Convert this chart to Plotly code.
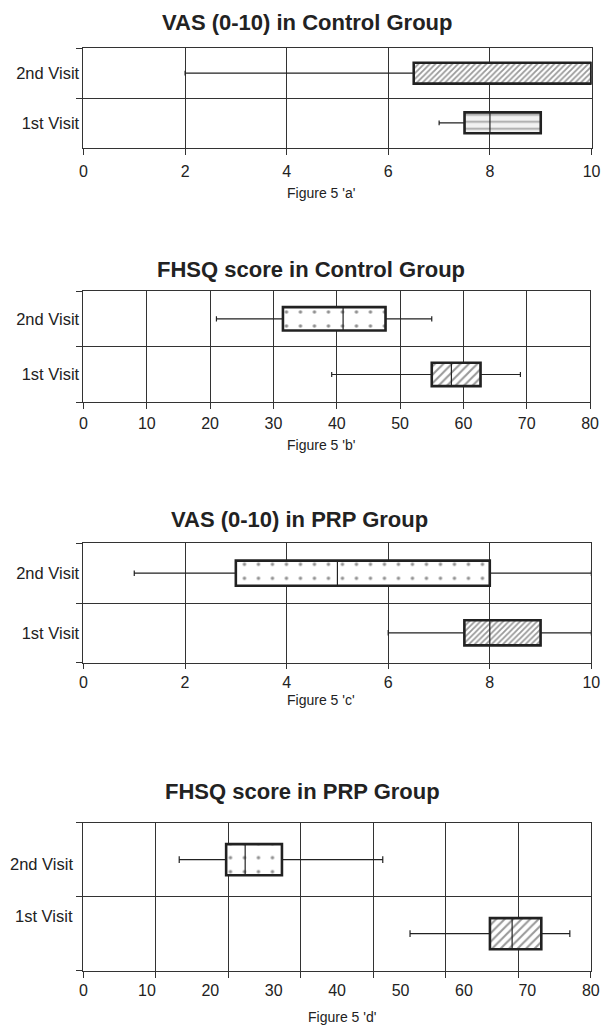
import plotly.graph_objects as go

# ---------------- data ----------------
visits = ["1st Visit", "2nd Visit"]

# Figure 5 'a' : VAS (0-10) in Control Group
a_low = [7.0, 2.0]
a_q1 = [7.5, 6.5]
a_med = [8.0, 10.0]
a_q3 = [9.0, 10.0]
a_high = [9.0, 10.0]

# Figure 5 'b' : FHSQ score in Control Group
b_low = [39.2, 21.0]
b_q1 = [55.0, 31.5]
b_med = [58.1, 41.0]
b_q3 = [62.7, 47.7]
b_high = [69.0, 55.0]

# Figure 5 'c' : VAS (0-10) in PRP Group
c_low = [6.0, 1.0]
c_q1 = [7.5, 3.0]
c_med = [8.0, 5.0]
c_q3 = [9.0, 8.0]
c_high = [10.0, 10.0]

# Figure 5 'd' : FHSQ score in PRP Group
d_low = [51.5, 15.1]
d_q1 = [64.1, 22.5]
d_med = [67.6, 25.5]
d_q3 = [72.2, 31.3]
d_high = [76.7, 47.2]

titles = ["VAS (0-10) in Control Group", "FHSQ score in Control Group",
          "VAS (0-10) in PRP Group", "FHSQ score in PRP Group"]
fig_labels = ["Figure 5 'a'", "Figure 5 'b'", "Figure 5 'c'", "Figure 5 'd'"]
vas_ticks = [0, 2, 4, 6, 8, 10]
fhsq_ticks = [0, 10, 20, 30, 40, 50, 60, 70, 80]
vas_range = [0, 10]
fhsq_range = [0, 80]
d_grid_range = [0, 70]   # grid of the last panel is drawn on its own 7-step scale
d_grid_step = 10

# ---------------- style / layout ----------------
W, H = 609, 1027
W_EFF = 600          # horizontal extent the page is actually laid out in
FONT = "Liberation Sans, Arial, sans-serif"
INK = "#222222"
GRID = "#333333"

# plot areas in pixels: (left, right, top, bottom)
areas = [(80, 591.5, 48.3, 147.7),
         (80, 590.0, 291.0, 402.3),
         (80, 591.3, 543.3, 662.7),
         (80, 590.7, 822.7, 970.7)]
title_pos = [(305, 23), (309, 269), (297, 519), (301, 791.5)]
label_pos = [(319, 193), (319, 445), (319, 700), (340, 1017)]
tick_len = [6, 6, 5, 0]
tick_standoff = [3, 0, 0, 5]

patterns = [
    dict(shape=["-", "/"], size=[7, 4], solidity=[0.25, 0.45],
         fgcolor=["#555555", "#333333"], bgcolor=["#f2f2f2", "white"]),
    dict(shape=["/", "."], size=[6, 14], solidity=[0.35, 0.05],
         fgcolor=["#333333", "#222222"], bgcolor=["white", "white"]),
    dict(shape=["/", "."], size=[4, 14], solidity=[0.45, 0.05],
         fgcolor=["#333333", "#222222"], bgcolor=["white", "white"]),
    dict(shape=["/", "."], size=[6, 14], solidity=[0.35, 0.05],
         fgcolor=["#333333", "#222222"], bgcolor=["white", "white"]),
]

stats = [(a_low, a_q1, a_med, a_q3, a_high),
         (b_low, b_q1, b_med, b_q3, b_high),
         (c_low, c_q1, c_med, c_q3, c_high),
         (d_low, d_q1, d_med, d_q3, d_high)]

BOXW = 0.42

fig = go.Figure()
layout = dict(width=W, height=H, margin=dict(l=0, r=0, t=0, b=0),
              autosize=False, showlegend=False,
              paper_bgcolor="white", plot_bgcolor="white",
              font=dict(family=FONT, color=INK, size=16),
              barmode="overlay", boxmode="overlay")
annotations = []

for i, (low, q1, med, q3, high) in enumerate(stats):
    n = i + 1
    xa, ya = f"x{n}", f"y{n}"
    L, R, T, B = areas[i]
    fig.add_trace(go.Bar(
        orientation="h", y=visits,
        x=[b - a for a, b in zip(q1, q3)], base=q1, width=BOXW,
        marker=dict(color="white", line=dict(color=INK, width=2.6),
                    pattern=patterns[i]),
        xaxis=xa, yaxis=ya, hoverinfo="skip"))
    fig.add_trace(go.Box(
        orientation="h", y=visits, q1=q1, median=med, q3=q3,
        lowerfence=low, upperfence=high, width=BOXW, whiskerwidth=0.22,
        fillcolor="rgba(0,0,0,0)", line=dict(color=INK, width=1.2),
        boxpoints=False, xaxis=xa, yaxis=ya))

    is_vas = i in (0, 2)
    ticks = vas_ticks if is_vas else fhsq_ticks
    rng = vas_range if is_vas else fhsq_range
    xkey = "xaxis" if n == 1 else f"xaxis{n}"
    ykey = "yaxis" if n == 1 else f"yaxis{n}"
    xdom = [L / W_EFF, min(R / W_EFF, 1.0)]
    ydom = [1 - B / H, 1 - T / H]
    last = (i == 3)
    layout[xkey] = dict(
        domain=xdom, anchor=ya, range=rng, tickmode="array", tickvals=ticks,
        showgrid=not last, gridcolor=GRID, gridwidth=1,
        showline=True, linecolor=GRID, linewidth=1, mirror=True,
        ticks="" if last else "outside", ticklen=max(tick_len[i], 1),
        tickcolor=GRID, zeroline=False,
        tickfont=dict(size=16, family=FONT, color=INK),
        ticklabelstandoff=tick_standoff[i], fixedrange=True)
    layout[ykey] = dict(
        domain=ydom, anchor=xa, type="category",
        categoryorder="array", categoryarray=visits, range=[-0.5, 1.5],
        tickson="boundaries", showgrid=True, gridcolor=GRID, gridwidth=1,
        showline=True, linecolor=GRID, linewidth=1, mirror=True,
        ticks="outside", ticklen=6, tickcolor=GRID,
        showticklabels=not last,
        tickfont=dict(size=16.5, family=FONT, color=INK), fixedrange=True)

    tx, ty = title_pos[i]
    annotations.append(dict(
        text=f"<b>{titles[i]}</b>", x=tx / W_EFF, y=1 - ty / H, xref="paper",
        yref="paper", xanchor="center", yanchor="middle", showarrow=False,
        font=dict(size=22, family=FONT, color=INK)))
    fx, fy = label_pos[i]
    annotations.append(dict(
        text=fig_labels[i], x=fx / W_EFF, y=1 - fy / H, xref="paper",
        yref="paper", xanchor="center", yanchor="middle", showarrow=False,
        font=dict(size=14, family=FONT, color=INK)))

# last panel: grid on its own overlaid scale, category labels placed by hand
fig.add_trace(go.Scatter(x=[], y=[], xaxis="x5", yaxis="y4",
                         showlegend=False, hoverinfo="skip"))
layout["xaxis5"] = dict(
    overlaying="x4", anchor="y4", side="bottom", range=d_grid_range,
    dtick=d_grid_step, tick0=0, showgrid=True, gridcolor=GRID, gridwidth=1,
    ticks="outside", ticklen=6, tickcolor=GRID, showticklabels=False,
    showline=False, zeroline=False, fixedrange=True)
for v, shift in zip(visits, [18, -4]):
    annotations.append(dict(
        text=v, x=0, y=v, xref="x4 domain", yref="y4", xanchor="right",
        yanchor="middle", xshift=-8, yshift=shift, showarrow=False,
        font=dict(size=16.5, family=FONT, color=INK)))

layout["annotations"] = annotations
fig.update_layout(**layout)
fig.write_html(
    "out.html",
    config={"displayModeBar": False, "responsive": False},
    post_script=("document.body.style.margin='0';"
                 "document.body.style.overflow='hidden';"))
